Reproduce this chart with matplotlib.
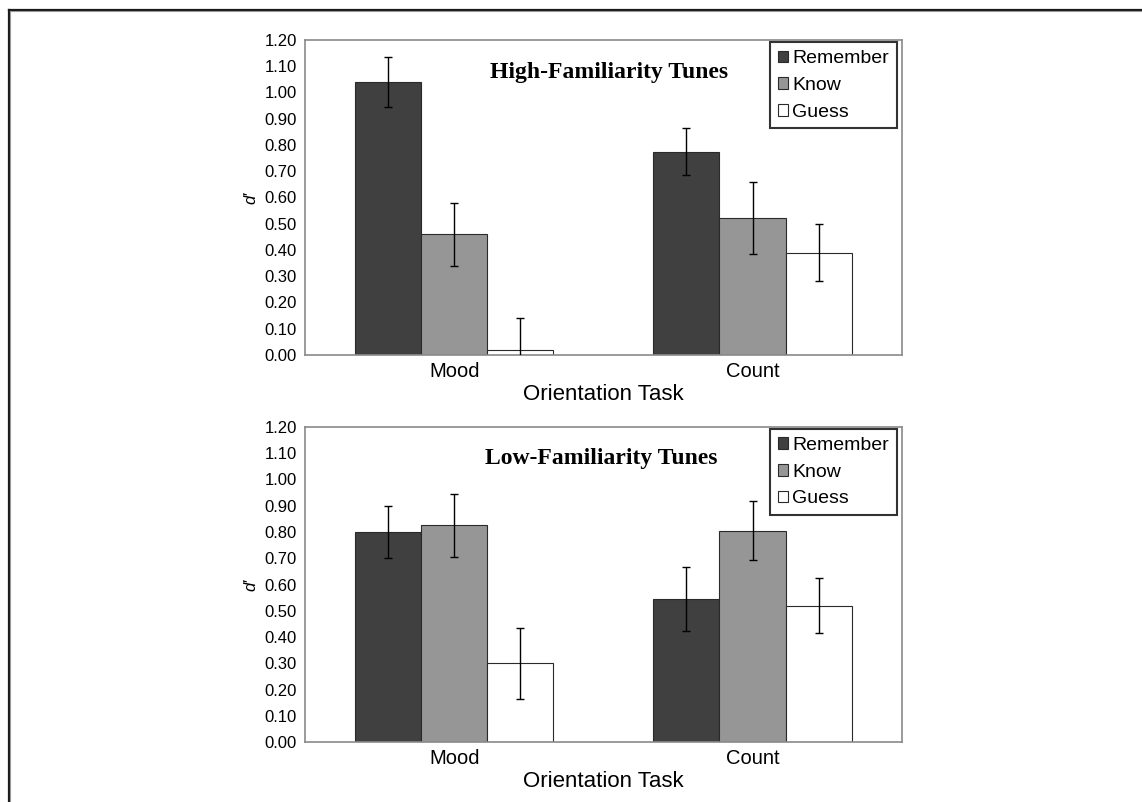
import numpy as np
import matplotlib
matplotlib.use("Agg")
import matplotlib.pyplot as plt
from matplotlib.lines import Line2D

# categories and series
taches = ["Mood", "Count"]
series = ["Remember", "Know", "Guess"]
couleurs = ["#404040", "#969696", "#ffffff"]

# High-familiarity tunes : d' et erreurs
haut_vals = [[1.04, 0.775], [0.46, 0.52], [0.02, 0.39]]
haut_err = [[0.095, 0.088], [0.12, 0.137], [0.12, 0.108]]

# Low-familiarity tunes
bas_vals = [[0.80, 0.545], [0.825, 0.805], [0.30, 0.52]]
bas_err = [[0.10, 0.12], [0.12, 0.113], [0.134, 0.103]]

titres = ["High-Familiarity Tunes", "Low-Familiarity Tunes"]
yticks = [0.0, 0.1, 0.2, 0.3, 0.4, 0.5, 0.6, 0.7, 0.8, 0.9, 1.0, 1.1, 1.2]

plt.rcParams['font.family'] = ['Liberation Sans', 'DejaVu Sans']

fig = plt.figure(figsize=(11.42, 8.02), dpi=100)

# cadre autour de la figure (haut et gauche seulement)
fig.add_artist(Line2D([8.5/1142, 1], [1-9.5/802, 1-9.5/802], color="#1a1a1a", lw=1.6))
fig.add_artist(Line2D([8.5/1142, 8.5/1142], [0, 1-9.5/802], color="#1a1a1a", lw=1.6))
fig.add_artist(Line2D([10.5/1142, 1], [1-11.3/802, 1-11.3/802], color="#999999", lw=0.8))
fig.add_artist(Line2D([10.3/1142, 10.3/1142], [0, 1-11.3/802], color="#999999", lw=0.8))

positions = [[0.2673, 0.5574, 0.5222, 0.3928], [0.2673, 0.0744, 0.5222, 0.3935]]
donnees = [(haut_vals, haut_err), (bas_vals, bas_err)]
titre_x = [0.509, 0.496]

x = np.arange(len(taches))
largeur = 0.2215

for k in range(2):
    ax = fig.add_axes(positions[k])
    vals, errs = donnees[k]
    for i in range(len(series)):
        ax.bar(x + (i - 1) * largeur, vals[i], largeur, color=couleurs[i],
               edgecolor="#2a2a2a", linewidth=0.8, label=series[i], zorder=2)
        ax.errorbar(x + (i - 1) * largeur, vals[i], yerr=errs[i], fmt="none",
                    ecolor="black", elinewidth=1.0, capsize=2.7, capthick=1.0, zorder=3)
    ax.set_xlim(-0.5, 1.5)
    ax.set_ylim(0, 1.2)
    ax.set_yticks(yticks)
    ax.set_yticklabels(["%.2f" % v for v in yticks], fontsize=12)
    ax.set_xticks(x)
    ax.set_xticklabels(taches, fontsize=14.5)
    ax.tick_params(axis="both", length=0, pad=6)
    ax.tick_params(axis="x", pad=5)
    for s in ax.spines.values():
        s.set_color("#8a8a8a")
        s.set_linewidth(1.2)
    ax.set_xlabel("Orientation Task", fontsize=16, labelpad=2)
    ax.set_ylabel("d\u2032", fontsize=12, style="italic")
    ax.yaxis.set_label_coords(-0.078, 0.5)
    # titre dans le graphique
    ax.text(titre_x[k], 0.898, titres[k], transform=ax.transAxes, ha="center", va="center",
            fontsize=17, fontweight="bold", family="Liberation Serif")
    leg = ax.legend(loc="upper right", bbox_to_anchor=(0.992, 0.992), borderaxespad=0,
                    fontsize=14, frameon=True, fancybox=False, handlelength=0.55,
                    handleheight=0.55, handletextpad=0.2, labelspacing=0.5,
                    borderpad=0.4)
    leg.get_frame().set_edgecolor("black")
    leg.get_frame().set_linewidth(1.5)

fig.savefig("out.png", dpi=100)
